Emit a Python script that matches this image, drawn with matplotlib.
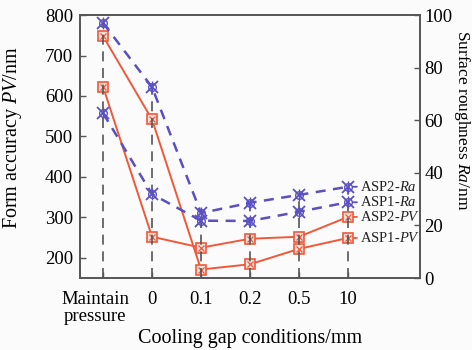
import matplotlib
matplotlib.use("Agg")
import matplotlib.pyplot as plt
import matplotlib.transforms as mtransforms
import numpy as np

plt.rcParams['font.family'] = ['Liberation Serif', 'DejaVu Serif']
plt.rcParams['mathtext.fontset'] = 'custom'
plt.rcParams['mathtext.rm'] = 'Liberation Serif'
plt.rcParams['mathtext.it'] = 'Liberation Serif:italic'

categories = ["Maintain\npressure", "0", "0.1", "0.2", "0.5", "10"]
asp1_pv = [748, 542, 171, 184, 222, 249]
asp2_pv = [623, 252, 225, 247, 252, 301]
asp2_ra = [97, 72.6, 24.7, 28.6, 31.6, 34.7]
asp1_ra = [62.7, 31.9, 21.8, 21.7, 25.2, 28.8]
left_ticks = [200, 300, 400, 500, 600, 700, 800]
right_ticks = [0, 20, 40, 60, 80, 100]

red = '#f0583a'
blue = '#5a50c0'
grey = '#555555'

fig = plt.figure(figsize=(4.72, 3.5), dpi=100)
fig.patch.set_facecolor('#fbfbfb')
ax = fig.add_axes([0.1695, 0.2057, 0.7203, 0.7513])
ax.set_facecolor('#fbfbfb')
ax2 = ax.twinx()

x = np.arange(len(categories))
PVMIN, PVMAX = 150, 800

# vertical dashed guide lines on ax2 (Ra scale)
tops = []
for i in range(len(categories)):
    pv_top = (max(asp1_pv[i], asp2_pv[i]) - PVMIN) / (PVMAX - PVMIN) * 100
    tops.append(max(asp1_ra[i], asp2_ra[i], pv_top))
for xi, t in zip(x, tops):
    ax2.plot([xi, xi], [0, t], color=grey, lw=1.2, dashes=(6, 4), zorder=1)

def pv_line(vals):
    ax.plot(x, vals, color=red, lw=1.4, zorder=3)
    ax.plot(x, vals, ls='none', marker='s', ms=7, mfc='#fbe0d8', mec=red, mew=1.2, zorder=4)
    ax.plot(x, vals, ls='none', marker='x', ms=5, mec=red, mew=0.9, zorder=5)

def ra_line(vals):
    ax2.plot(x, vals, color=blue, lw=1.8, dashes=(4, 3), zorder=3)
    ax2.plot(x, vals, ls='none', marker='x', ms=9, mec=blue, mew=1.3, zorder=4)
    ax2.plot(x, vals, ls='none', marker='o', ms=5.5, mfc='none', mec=blue, mew=1.0, zorder=4)
    ax2.plot(x, vals, ls='none', marker='|', ms=8, mec=blue, mew=1.0, zorder=4)

pv_line(asp1_pv)
pv_line(asp2_pv)
ra_line(asp2_ra)
ra_line(asp1_ra)

ax.set_xlim(-0.47, 6.47)
ax.set_ylim(PVMIN, PVMAX)
ax2.set_ylim(0, 100)
ax.set_xticks(x)
ax.set_xticklabels(categories, fontsize=13.5, linespacing=1.0)
ax.set_yticks(left_ticks)
ax.set_yticklabels([str(v) for v in left_ticks], fontsize=13.5)
ax2.set_yticks(right_ticks)
ax2.set_yticklabels([str(v) for v in right_ticks], fontsize=13.5)
ax.tick_params(axis='x', direction='in', length=4, width=1, color=grey, pad=9)
ax.tick_params(axis='y', direction='in', length=4, width=1, color=grey, pad=5)
ax2.tick_params(direction='in', length=4, width=1, color=grey, pad=3)

# shift the two-line first label slightly left like the reference
first = ax.get_xticklabels()[0]
first.set_transform(first.get_transform() + mtransforms.ScaledTranslation(-8 / 100, 0, fig.dpi_scale_trans))

for a in (ax, ax2):
    for s in a.spines.values():
        s.set_color('#555555')
        s.set_linewidth(1.2)

ylab = ax.set_ylabel('Form accuracy $\\mathit{PV}$/nm', fontsize=14.5)
ylab.set_rotation_mode('anchor')
ylab.set_ha('center')
ylab.set_va('bottom')
ax.yaxis.set_label_coords(-0.165, 0.535)

ylab2 = ax2.set_ylabel('Surface roughness $\\mathit{Ra}$/nm', fontsize=12.5, rotation=270)
ylab2.set_rotation_mode('anchor')
ylab2.set_ha('center')
ylab2.set_va('bottom')
ax2.yaxis.set_label_coords(1.094, 0.6)

xlab = ax.set_xlabel('Cooling gap conditions/mm', fontsize=14.5)
xlab.set_va('top')
ax.xaxis.set_label_coords(0.5, -0.195)

# end labels
last = len(categories) - 1
labels = [
    (ax2, asp2_ra[last], 'ASP2-$\\mathit{Ra}$', blue),
    (ax2, asp1_ra[last], 'ASP1-$\\mathit{Ra}$', blue),
    (ax, asp2_pv[last], 'ASP2-$\\mathit{PV}$', red),
    (ax, asp1_pv[last], 'ASP1-$\\mathit{PV}$', red),
]
for a, yv, txt, c in labels:
    a.annotate(txt, xy=(last + 0.1, yv), xytext=(last + 0.24, yv),
               fontsize=10.5, va='center', ha='left', color='#222222',
               arrowprops=dict(arrowstyle='-', color=c, lw=1.3, shrinkA=0, shrinkB=0))

fig.savefig('out.png', dpi=100, facecolor=fig.get_facecolor())
